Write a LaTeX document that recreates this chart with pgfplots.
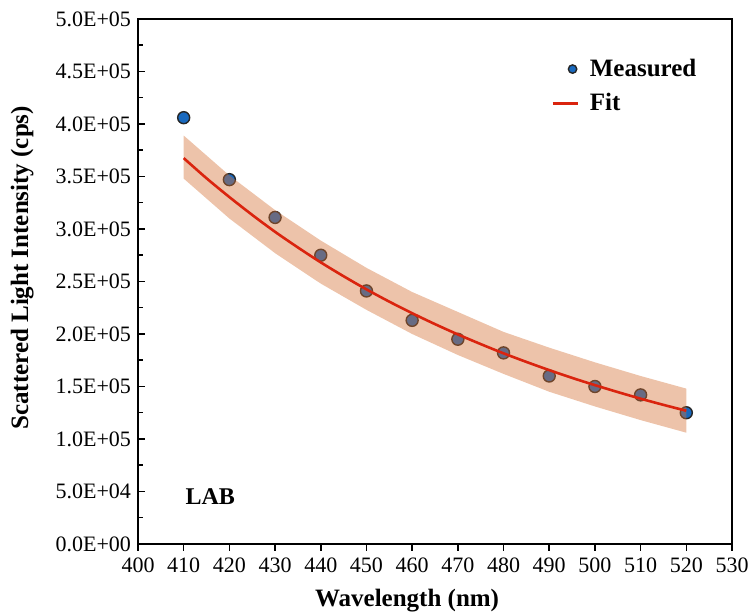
\documentclass[border=0pt]{standalone}
\usepackage{pgfplots}
\pgfplotsset{compat=1.18}
\usepackage{fontspec}
\setmainfont{Liberation Serif}
\definecolor{ptblue}{RGB}{25,105,190}
\definecolor{fitred}{RGB}{218,36,14}
\definecolor{bandc}{RGB}{212,112,52}
\pgfplotsset{
  legmark/.style={legend image code/.code={\draw[##1, mark size=2.1pt] plot coordinates {(10pt,0pt)}; \path (0pt,0pt) (16pt,0pt);}},
  legline/.style={legend image code/.code={\draw[##1] (0pt,0pt) -- (12.5pt,0pt); \path (16pt,0pt);}},
}
\begin{document}
\begin{tikzpicture}
\path[use as bounding box] (0,0) rectangle (375.5pt,307.5pt);
\begin{axis}[
  clip marker paths=true,
  at={(69pt,35.5pt)}, anchor=south west,
  scale only axis, width=297pt, height=262.5pt,
  xmin=400, xmax=530, ymin=0, ymax=500000,
  xtick={400,410,...,530},
  ytick={0,50000,...,500000},
  yticklabels={0.0E+00,5.0E+04,1.0E+05,1.5E+05,2.0E+05,2.5E+05,3.0E+05,3.5E+05,4.0E+05,4.5E+05,5.0E+05},
  minor ytick={25000,75000,...,475000},
  scaled y ticks=false,
  xtick pos=bottom, ytick pos=left,
  xtick align=outside, ytick align=inside,
  major tick length=3.5pt, minor tick length=2.5pt,
  every tick/.style={black, line width=0.75pt},
  axis line style={line width=0.75pt},
  tick label style={font=\fontsize{11}{13}\selectfont},
  /pgf/number format/.cd, 1000 sep={}, assume math mode=true, /pgfplots/.cd,
  xlabel={\textbf{Wavelength (nm)}},
  ylabel={\textbf{Scattered Light Intensity (cps)}},
  label style={font=\fontsize{12.5}{15}\selectfont},
  xlabel style={at={(axis description cs:0.453,-0.107)}, anchor=center},
  ylabel style={at={(axis description cs:-0.195,0.526)}, anchor=center},
  legend style={draw=none, fill=none, at={(rel axis cs:0.685,0.94)}, anchor=north west,
    font=\fontsize{12.5}{15}\selectfont\bfseries, row sep=3pt},
  legend cell align=left,
]
% measured points
\addplot[only marks, mark=*, mark size=3pt,
  mark options={fill=ptblue, draw=black!85, line width=0.7pt}, legmark]
  coordinates {
(410,406000) (420,347000) (430,311000) (440,275000) (450,241000) (460,213000)
(470,195000) (480,182000) (490,160000) (500,150000) (510,142000) (520,125000)};
\addlegendentry{Measured}
% confidence band (over the points)
\addplot[fill=bandc, fill opacity=0.42, draw=none, forget plot] coordinates {
(410,389000) (420,351000) (430,318000) (440,289000) (450,263000) (460,240000)
(470,221000) (480,202000) (490,187000) (500,173000) (510,160000) (520,148000)
(520,106000) (510,118000) (500,131000) (490,145000) (480,162000) (470,180000)
(460,200000) (450,223000) (440,248000) (430,277000) (420,310000) (410,348000)} -- cycle;
% fit line on top
\addplot[fitred, line width=1.3pt, smooth, forget plot] coordinates {
(410,367500) (415,348300) (420,330400) (425,313400) (430,297300) (435,282400)
(440,268200) (445,255000) (450,242500) (455,230800) (460,219800) (465,209400)
(470,199600) (475,190400) (480,181600) (485,173400) (490,165600) (495,158200)
(500,151300) (505,144700) (510,138400) (515,132500) (520,126900)};
\addlegendimage{fitred, line width=1.3pt, legline}
\addlegendentry{Fit}
\node[font=\fontsize{12}{14}\selectfont\bfseries] at (axis cs:415.8,45000) {LAB};
\end{axis}
\end{tikzpicture}
\end{document}
